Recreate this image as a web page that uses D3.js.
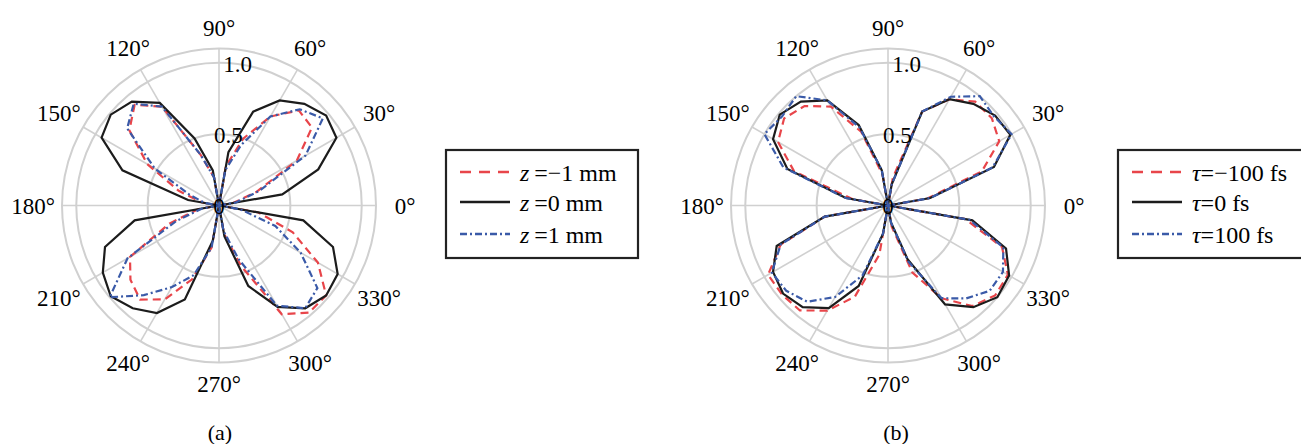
<!DOCTYPE html>
<html>
<head>
<meta charset="utf-8">
<script src="https://cdn.jsdelivr.net/npm/d3@7"></script>
<style>
  body { margin: 0; background: #fff; }
  svg { display: block; font-family: "Liberation Serif", "Times New Roman", serif; }
</style>
</head>
<body>
<svg id="chart"></svg>
<script>
// sample angles, degrees
const angles = [0, 10, 20, 30, 40, 50, 60, 70, 80, 90, 100, 110, 120, 130, 140, 150, 160, 170,
  180, 190, 200, 210, 220, 230, 240, 250, 260, 270, 280, 290, 300, 310, 320, 330, 340, 350];

// (a) z scan
const zMinus1 = [0, 0.1, 0.28, 0.63, 0.85, 0.87, 0.72, 0.5, 0.28,
  0, 0.2, 0.38, 0.8, 0.92, 0.82, 0.58, 0.3, 0.12,
  0, 0.15, 0.37, 0.72, 0.81, 0.86, 0.76, 0.55, 0.3,
  0, 0.2, 0.45, 0.88, 0.98, 0.98, 0.8, 0.55, 0.28];
const zZero = [0, 0.45, 0.74, 0.95, 0.98, 0.93, 0.85, 0.7, 0.38,
  0, 0.25, 0.5, 0.83, 0.95, 0.99, 0.95, 0.72, 0.22,
  0, 0.6, 0.85, 0.94, 0.99, 0.94, 0.87, 0.7, 0.25,
  0, 0.22, 0.6, 0.82, 0.94, 0.98, 0.96, 0.85, 0.6];
const zPlus1 = [0, 0.12, 0.3, 0.7, 0.95, 0.88, 0.72, 0.45, 0.25,
  0, 0.2, 0.38, 0.8, 0.93, 0.84, 0.52, 0.22, 0.1,
  0, 0.12, 0.32, 0.74, 1.0, 0.82, 0.66, 0.52, 0.3,
  0, 0.18, 0.4, 0.81, 0.94, 0.9, 0.66, 0.42, 0.15];

// (b) tau scan
const tauMinus100 = [0, 0.28, 0.7, 0.9, 0.95, 0.95, 0.86, 0.7, 0.2,
  0, 0.22, 0.55, 0.8, 0.91, 0.95, 0.89, 0.7, 0.25,
  0, 0.45, 0.8, 0.97, 0.97, 0.96, 0.85, 0.68, 0.35,
  0, 0.15, 0.5, 0.75, 0.92, 0.98, 0.97, 0.85, 0.55];
const tauZero = [0, 0.3, 0.79, 0.99, 0.98, 0.93, 0.86, 0.7, 0.15,
  0, 0.25, 0.6, 0.85, 0.95, 0.99, 0.93, 0.75, 0.3,
  0, 0.45, 0.83, 0.93, 0.96, 0.93, 0.83, 0.6, 0.2,
  0, 0.12, 0.4, 0.8, 0.93, 1.0, 0.98, 0.88, 0.6];
const tauPlus100 = [0, 0.3, 0.78, 1.0, 0.97, 1.0, 0.88, 0.7, 0.15,
  0, 0.25, 0.58, 0.85, 1.0, 0.97, 1.0, 0.78, 0.3,
  0, 0.45, 0.8, 0.94, 0.93, 0.88, 0.74, 0.52, 0.2,
  0, 0.12, 0.42, 0.75, 0.85, 0.93, 0.93, 0.86, 0.58];

const angleTicks = [0, 30, 60, 90, 120, 150, 180, 210, 240, 270, 300, 330];
const angleTickLabels = ['0°', '30°', '60°', '90°', '120°', '150°', '180°', '210°', '240°', '270°', '300°', '330°'];
const radialTicks = [0, 0.5, 1.0];
const radialTickLabels = ['0', '0.5', '1.0'];
const rings = [0.5, 1.0, 1.1];

const legendTextA = ['\u2009=\u22121 mm', '\u2009=0 mm', '\u2009=1 mm'];
const legendTextB = ['=\u2212100 fs', '=0 fs', '=100 fs'];

const width = 1301;
const height = 444;
const outerR = 157;

const svg = d3.select('#chart')
  .attr('width', width)
  .attr('height', height);

const r = d3.scaleLinear().domain([0, 1.1]).range([0, outerR]);
// math angle (ccw from east) -> d3 angle (cw from north)
const a = d3.scaleLinear().domain([0, 360]).range([Math.PI / 2, Math.PI / 2 - 2 * Math.PI]);

const styles = [
  { color: '#e8454a', dash: '8,5', legendDash: '11,8' },
  { color: '#1c1c1c', dash: null, legendDash: null },
  { color: '#3a5aa8', dash: '7,3,2,3', legendDash: '7,3,2,3' }
];

const line = d3.lineRadial()
  .angle(d => a(d[0]))
  .radius(d => r(d[1]))
  .curve(d3.curveLinearClosed);

function drawPolar(cx, cy, series, caption, captionX) {
  const g = svg.append('g').attr('transform', `translate(${cx},${cy})`);

  // grid
  g.selectAll('.ring')
    .data(rings)
    .enter()
    .append('circle')
    .attr('r', d => r(d))
    .attr('fill', 'none')
    .attr('stroke', '#d0d0d0')
    .attr('stroke-width', 2);

  g.selectAll('.spoke')
    .data(angleTicks)
    .enter()
    .append('line')
    .attr('x1', 0)
    .attr('y1', 0)
    .attr('x2', d => r(1.1) * Math.sin(a(d)))
    .attr('y2', d => -r(1.1) * Math.cos(a(d)))
    .attr('stroke', '#d0d0d0')
    .attr('stroke-width', 1.6);

  // curves
  series.forEach((values, i) => {
    g.append('path')
      .datum(angles.map((t, k) => [t, values[k]]))
      .attr('d', line)
      .attr('fill', 'none')
      .attr('stroke', styles[i].color)
      .attr('stroke-width', 2.2)
      .attr('stroke-linejoin', 'miter')
      .attr('stroke-miterlimit', 2)
      .attr('stroke-dasharray', styles[i].dash);
  });

  // angle labels
  g.selectAll('.alabel')
    .data(angleTicks)
    .enter()
    .append('text')
    .attr('x', d => (178 + 8 * Math.abs(Math.cos(d * Math.PI / 180))) * Math.sin(a(d)))
    .attr('y', d => -(178 + 8 * Math.abs(Math.cos(d * Math.PI / 180))) * Math.cos(a(d)))
    .attr('dy', '0.35em')
    .attr('text-anchor', 'middle')
    .style('font-size', '23px')
    .text((d, i) => angleTickLabels[i]);

  // radial labels
  const labelAngle = a(82.5);
  g.selectAll('.rlabel')
    .data(radialTicks)
    .enter()
    .append('text')
    .attr('x', d => r(d) * Math.sin(labelAngle))
    .attr('y', d => -r(d) * Math.cos(labelAngle))
    .attr('dy', '0.35em')
    .attr('text-anchor', 'middle')
    .style('font-size', '23px')
    .text((d, i) => radialTickLabels[i]);

  svg.append('text')
    .attr('x', captionX)
    .attr('y', 440)
    .attr('text-anchor', 'middle')
    .style('font-size', '22px')
    .text(caption);
}

function drawLegend(x, y, symbol, texts) {
  const g = svg.append('g').attr('transform', `translate(${x},${y})`);
  g.append('rect')
    .attr('width', 192)
    .attr('height', 108)
    .attr('fill', '#fff')
    .attr('stroke', '#222')
    .attr('stroke-width', 2.2);

  const rowY = [22, 52, 84];
  texts.forEach((t, i) => {
    g.append('line')
      .attr('x1', 14)
      .attr('x2', 64)
      .attr('y1', rowY[i])
      .attr('y2', rowY[i])
      .attr('stroke', styles[i].color)
      .attr('stroke-width', 2.6)
      .attr('stroke-dasharray', styles[i].legendDash);
    const txt = g.append('text')
      .attr('x', 74)
      .attr('y', rowY[i] + 9)
      .style('font-size', '24px');
    txt.append('tspan').style('font-style', 'italic').text(symbol);
    txt.append('tspan').text(t);
  });
}

drawPolar(219, 205.5, [zMinus1, zZero, zPlus1], '(a)', 220);
drawPolar(888, 205.5, [tauMinus100, tauZero, tauPlus100], '(b)', 896);

drawLegend(446, 150, 'z', legendTextA);
drawLegend(1118, 150, '\u03c4', legendTextB);
</script>
</body>
</html>
